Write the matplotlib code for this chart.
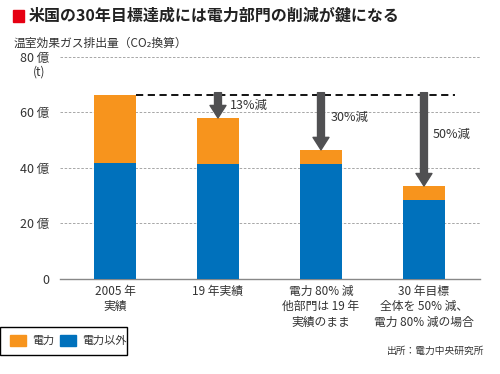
import matplotlib.pyplot as plt
from matplotlib.patches import Rectangle

plt.rcParams['font.family'] = ['Noto Sans CJK JP', 'DejaVu Sans']

# ------------------------------------------------ DATA ------------------------------------------------#

categories = ["2005 年\n実績", "19 年実績", "電力 80% 減\n他部門は 19 年\n実績のまま",
              "30 年目標\n全体を 50% 減、\n電力 80% 減の場合"]
power = [24.5, 16.6, 5.1, 5.0]        # 電力 (億t)
other = [41.8, 41.4, 41.4, 28.5]      # 電力以外 (億t)
base_2005 = 66.3
cut_labels = ["13%減", "30%減", "50%減"]
yticks = [0, 20, 40, 60, 80]
ytick_labels = ["0", "20 億", "40 億", "60 億", "80 億"]

c_power = "#F7941D"
c_other = "#0071BC"
c_arrow = "#505052"
c_text = "#333333"

# ------------------------------------------------ PLOT ------------------------------------------------#

fig = plt.figure(figsize=(5, 3.74), dpi=100)
ax = fig.add_axes([0.12, 0.254, 0.84, 0.594])

x = range(len(categories))
ax.bar(x, other, width=0.41, color=c_other, zorder=3)
ax.bar(x, power, bottom=other, width=0.41, color=c_power, zorder=3)

ax.set_xlim(-0.534, 3.544)
ax.set_ylim(0, 80)

# dashed reference line at the 2005 level
ax.plot([0.2, 3.3], [base_2005, base_2005], ls=(0, (4, 2.5)), color="black", lw=1.3, zorder=4)

# reduction arrows
for i in range(1, 4):
    top = other[i] + power[i]
    ax.annotate("", xy=(i, top), xytext=(i, base_2005 + 0.8),
                arrowprops=dict(arrowstyle="simple,head_length=0.9,head_width=1.15,tail_width=0.5",
                                color=c_arrow, shrinkA=0, shrinkB=0), zorder=5)
offsets = [(0.12, 62.6), (0.09, 58.1), (0.08, 52.0)]
for i, (lab, (dx, yy)) in enumerate(zip(cut_labels, offsets), start=1):
    ax.text(i + dx, yy, lab, fontsize=9, color=c_text, va="center", ha="left")

# axes style
ax.set_yticks(yticks)
ax.set_yticklabels(ytick_labels, fontsize=9, color=c_text)
ax.tick_params(axis="y", length=0, pad=8)
ax.set_xticks(list(x))
ax.set_xticklabels(categories, fontsize=8.5, color=c_text, linespacing=1.25, va="top")
ax.tick_params(axis="x", length=0, pad=4)
for s in ["top", "right", "left"]:
    ax.spines[s].set_visible(False)
ax.spines["bottom"].set_color("#888888")
ax.spines["bottom"].set_linewidth(1)
for yv in yticks[1:]:
    ax.axhline(yv, color="#999999", lw=0.6, ls=(0, (3, 2)), zorder=1)

ax.text(-0.74, 80 - 5.6, "(t)", fontsize=8.5, color=c_text, ha="center", va="center")

# title and axis label
fig.patches.append(Rectangle((0.026, 0.942), 0.022, 0.03, transform=fig.transFigure,
                             color="#E60012"))
fig.text(0.058, 0.957, "米国の30年目標達成には電力部門の削減が鍵になる",
         fontsize=11.5, fontweight="bold", color="#222222", va="center")
fig.text(0.028, 0.885, "温室効果ガス排出量（CO₂換算）", fontsize=8.5, color=c_text, va="center")

# legend box
fig.patches.append(Rectangle((0.0, 0.051), 0.253, 0.075, transform=fig.transFigure,
                             fill=False, edgecolor="black", lw=1))
fig.patches.append(Rectangle((0.02, 0.075), 0.032, 0.028, transform=fig.transFigure, color=c_power))
fig.text(0.064, 0.089, "電力", fontsize=8, color=c_text, va="center")
fig.patches.append(Rectangle((0.12, 0.075), 0.032, 0.028, transform=fig.transFigure, color=c_other))
fig.text(0.164, 0.089, "電力以外", fontsize=8, color=c_text, va="center")

fig.text(0.968, 0.062, "出所：電力中央研究所", fontsize=7, color=c_text, ha="right", va="center")

fig.savefig("out.png", dpi=100)
